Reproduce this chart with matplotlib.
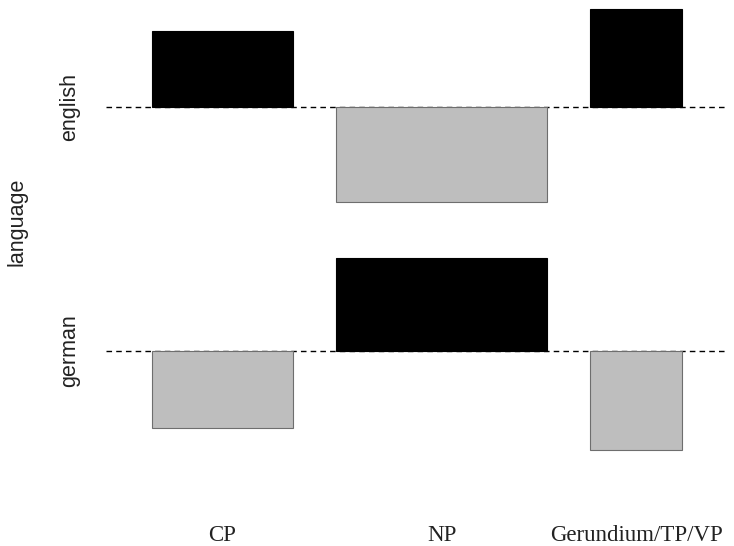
import numpy as np
import matplotlib
matplotlib.use('Agg')
from matplotlib import pyplot as plt
from matplotlib import transforms

# association plot: box width ~ sqrt(expected), height ~ pearson residual
categories = ['CP', 'NP', 'Gerundium/TP/VP']
languages = ['english', 'german']
widths = [7.05, 10.55, 4.6]
resid_english = [3.8, -4.75, 4.9]
resid_german = [-3.85, 4.65, -4.95]

edge = 2.3
gap = 2.15
row_gap = 2.8

fig = plt.figure(figsize=(7.34, 5.46), dpi=100)
ax = fig.add_axes([106 / 734, 96 / 546, 622 / 734, 441 / 546])

# column positions
lefts = []
pos = edge
for w in widths:
    lefts.append(pos)
    pos += w + gap
total = pos - gap + edge
centers = np.array(lefts) + np.array(widths) / 2

# row baselines (german at bottom)
base_german = 0.0
base_english = max(resid_german) + row_gap - min(resid_english)
rows = [(resid_english, base_english), (resid_german, base_german)]

for resid, base in rows:
    ax.axhline(base, color='black', lw=1.0, ls=(0, (4, 3)), zorder=1)
    for c, w, r in zip(centers, widths, resid):
        if r > 0:
            ax.bar(c, r, width=w, bottom=base, color='black', edgecolor='black',
                   lw=0.8, zorder=2, clip_on=False)
        else:
            ax.bar(c, r, width=w, bottom=base, color='#bebebe', edgecolor='#6e6e6e',
                   lw=0.8, zorder=2, clip_on=False)

ax.set_xlim(0, total)
ax.set_ylim(min(resid_german), base_english + max(resid_english))
ax.axis('off')

# column labels
trans = transforms.blended_transform_factory(ax.transData, ax.transAxes)
for c, lab in zip(centers, categories):
    ax.text(c, -0.195, lab, transform=trans, ha='center', va='center',
            fontsize=16.5, family='Liberation Serif', color='#222222')

# row labels
trans_y = transforms.blended_transform_factory(ax.transAxes, ax.transData)
for lab, base in zip(languages, [base_english, base_german]):
    ax.text(-0.058, base, lab, transform=trans_y, rotation=90, ha='center', va='center',
            fontsize=15.5, family='Liberation Sans', color='#222222')

ax.text(-0.143, 0.517, 'language', transform=ax.transAxes, rotation=90, ha='center', va='center',
        fontsize=15.5, family='Liberation Sans', color='#222222')

fig.savefig('out.png', dpi=100)
